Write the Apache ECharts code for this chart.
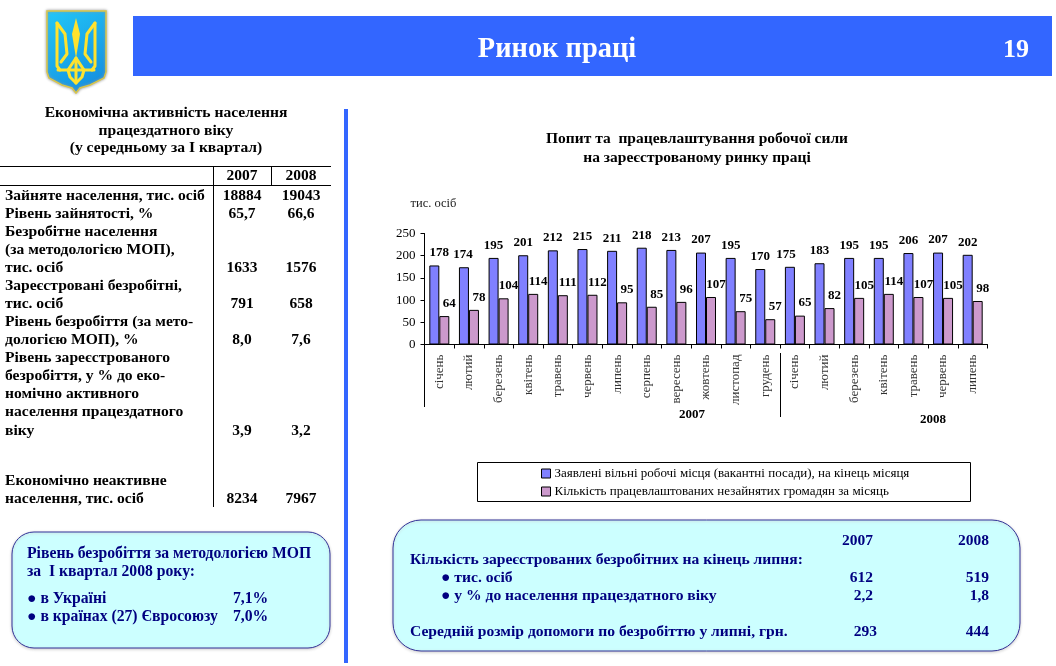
<!DOCTYPE html>
<html><head><meta charset="utf-8">
<style>html,body{margin:0;padding:0;background:#fff}#c{width:1056px;height:666px}</style>
<script src="https://cdn.jsdelivr.net/npm/echarts@6/dist/echarts.min.js"></script>
</head><body><div id="c"></div>
<script>
const months = ['січень','лютий','березень','квітень','травень','червень','липень','серпень','вересень','жовтень','листопад','грудень','січень','лютий','березень','квітень','травень','червень','липень'];
const vacancies = [178,174,195,201,212,215,211,218,213,207,195,170,175,183,195,195,206,207,202];
const placed = [64,78,104,114,111,112,95,85,96,107,75,57,65,82,105,114,107,105,98];
const seriesNames = ['Заявлені вільні робочі місця (вакантні посади), на кінець місяця','Кількість працевлаштованих незайнятих громадян за місяць'];
const tableTitle = ['Економічна активність населення','працездатного віку','(у середньому за І квартал)'];
const tableYears = ['2007','2008'];
const tableLines = [
 ['Зайняте населення, тис. осіб',195,'18884','19043'],
 ['Рівень зайнятості, %',213,'65,7','66,6'],
 ['Безробітне населення',231],
 ['(за методологією МОП),',249],
 ['тис. осіб',267,'1633','1576'],
 ['Зареєстровані безробітні,',285],
 ['тис. осіб',303,'791','658'],
 ['Рівень безробіття (за мето-',321],
 ['дологією МОП), %',339,'8,0','7,6'],
 ['Рівень зареєстрованого',357],
 ['безробіття, у % до еко-',375],
 ['номічно активного',393],
 ['населення працездатного',411],
 ['віку',430,'3,9','3,2'],
 ['Економічно неактивне',480],
 ['населення, тис. осіб',498,'8234','7967']
];
const serif = '"Liberation Serif","Times New Roman",serif';
const navy = '#000080', bandBlue = '#3366ff';
function t(x,y,text,o){o=o||{};return {type:'text',x:x,y:y+1,z:o.z||5,style:{text:text,fontFamily:serif,fontWeight:o.w||'bold',fontSize:o.s||14,fill:o.c||'#000',align:o.a||'left',verticalAlign:'middle'}};}
function l(x1,y1,x2,y2,c,w){return {type:'line',z:4,shape:{x1:x1,y1:y1,x2:x2,y2:y2},style:{stroke:c||'#000',lineWidth:w||1}};}
function trident(pts){return {type:'polyline',z:6,shape:{points:pts},style:{stroke:'#ffe22e',lineWidth:3,fill:null,lineCap:'round',lineJoin:'round'}};}
const g = [];
// header
g.push({type:'rect',z:1,shape:{x:133,y:16,width:919,height:60},style:{fill:bandBlue}});
g.push(t(557,49,'Ринок праці',{s:28.4,c:'#fff',a:'center'}));
g.push(t(1016,49,'19',{s:26,c:'#fff',a:'center'}));
g.push({type:'rect',z:1,shape:{x:344,y:109,width:4,height:554},style:{fill:bandBlue}});
// emblem
g.push({type:'polygon',z:5,shape:{points:[[47,11],[106,11],[106,72],[104,78],[90,85],[80,88],[76,93],[72,88],[62,85],[49,78],[47,72]]},style:{stroke:'#d9c64a',lineWidth:1.5,shadowBlur:3,shadowColor:'#999',fill:new echarts.graphic.LinearGradient(0,0,1,1,[{offset:0,color:'#22c8f8'},{offset:1,color:'#1488dc'}])}});
g.push({type:'polygon',z:6,shape:{points:[[76,18],[72,34],[76,58],[80,34]]},style:{fill:'#ffe22e'}});
g.push(trident([[57,23],[57,66],[60,70]]));
g.push(trident([[95,23],[95,66],[92,70]]));
g.push(trident([[57,23],[65,34],[67,54],[61,62]]));
g.push(trident([[95,23],[87,34],[85,54],[91,62]]));
g.push(trident([[58,70],[94,70]]));
g.push(trident([[76,58],[68,70],[70,77],[76,83],[82,77],[84,70],[76,58]]));
g.push(trident([[76,58],[76,83]]));
// left table
tableTitle.forEach((s,i)=>g.push(t(166,[112,130,147][i],s,{a:'center',s:15.6})));
g.push(l(0,166.5,331,166.5),l(0,185.5,331,185.5),l(213.5,166,213.5,507),l(271.5,166,271.5,185));
g.push(t(242,175,tableYears[0],{a:'center',s:15.5}),t(301,175,tableYears[1],{a:'center',s:15.5}));
tableLines.forEach(r=>{
  g.push(t(5,r[1],r[0],{s:15.6}));
  if(r[2]){g.push(t(242,r[1],r[2],{a:'center',s:15.5}),t(301,r[1],r[3],{a:'center',s:15.5}));}
});
// left callout
g.push({type:'rect',z:1,shape:{x:12,y:532,width:318,height:116,r:22},style:{fill:'#ccffff',stroke:'#333399',lineWidth:1,shadowBlur:3,shadowColor:'#ccc',shadowOffsetY:1}});
[[27,553,'Рівень безробіття за методологією МОП'],[27,571,'за  І квартал 2008 року:'],[27,598,'● в Україні'],[233,598,'7,1%'],[27,616,'● в країнах (27) Євросоюзу'],[233,616,'7,0%']]
 .forEach(a=>g.push(t(a[0],a[1],a[2],{s:15.7,c:navy})));
// right callout
g.push({type:'rect',z:1,shape:{x:393,y:520,width:627,height:131,r:28},style:{fill:'#ccffff',stroke:'#333399',lineWidth:1,shadowBlur:3,shadowColor:'#ccc',shadowOffsetY:1}});
[[410,559,'Кількість зареєстрованих безробітних на кінець липня:'],[441,577,'● тис. осіб'],[441,595,'● у % до населення працездатного віку'],[410,631,'Середній розмір допомоги по безробіттю у липні, грн.']]
 .forEach(a=>g.push(t(a[0],a[1],a[2],{s:15.6,c:navy})));
[[873,540,'2007'],[989,540,'2008'],[873,577,'612'],[989,577,'519'],[873,595,'2,2'],[989,595,'1,8'],[877,631,'293'],[989,631,'444']]
 .forEach(a=>g.push(t(a[0],a[1],a[2],{s:15.5,c:navy,a:'right'})));
// chart furniture
g.push(l(424.5,345,424.5,407),l(780.5,353,780.5,417));
g.push(t(692,414,'2007',{a:'center',s:13}),t(933,419,'2008',{a:'center',s:13}));
g.push({type:'rect',z:1,shape:{x:477.5,y:462.5,width:493,height:39},style:{fill:'#fff',stroke:'#000',lineWidth:1}});

const chart = echarts.init(document.getElementById('c'),null,{width:1056,height:666});
const lab = (dx)=>({show:true,position:'top',offset:[dx,-3],fontFamily:serif,fontWeight:'bold',fontSize:13,color:'#000',distance:3});
const vacancyLabelShift = {0:5,1:-1,12:-4};
chart.setOption({
  backgroundColor:'#fff',animation:false,
  title:{text:'Попит та  працевлаштування робочої сили\nна зареєстрованому ринку праці',left:692,top:124,textAlign:'center',
    textStyle:{fontFamily:serif,fontWeight:'bold',fontSize:15.5,lineHeight:19,color:'#000'}},
  legend:{orient:'vertical',left:536,top:462,itemWidth:9,itemHeight:9,itemGap:5,z:5,icon:'rect',
    textStyle:{fontFamily:serif,fontSize:13,color:'#000',padding:[0,0,0,-1]},
    data:[{name:seriesNames[0],itemStyle:{borderColor:'#000',borderWidth:1}},{name:seriesNames[1],itemStyle:{borderColor:'#000',borderWidth:1}}]},
  grid:{left:424.5,right:68.5,top:233.5,bottom:321.5},
  xAxis:{type:'category',data:months,
    axisLine:{lineStyle:{color:'#000'}},
    axisTick:{show:true,length:4,lineStyle:{color:'#000'},alignWithLabel:false},
    axisLabel:{interval:0,rotate:90,margin:10,fontFamily:serif,fontSize:13,color:'#333'}},
  yAxis:{type:'value',min:0,max:250,interval:50,name:'тис. осіб',nameLocation:'end',nameGap:23,
    nameTextStyle:{fontFamily:serif,fontSize:12.5,color:'#222',align:'center',padding:[0,0,0,18]},
    axisLine:{show:true,lineStyle:{color:'#000'}},
    axisTick:{show:true,length:4,lineStyle:{color:'#000'}},
    splitLine:{show:false},
    axisLabel:{margin:9,fontFamily:serif,fontSize:13,color:'#000'}},
  series:[
    {name:seriesNames[0],type:'bar',data:vacancies.map((v,i)=>vacancyLabelShift[i]?{value:v,label:{offset:[vacancyLabelShift[i],-3]}}:v),barWidth:10,barGap:0,itemStyle:{color:'#8080ff',borderColor:'#000',borderWidth:1},label:lab(0)},
    {name:seriesNames[1],type:'bar',data:placed,barWidth:10,barGap:0,itemStyle:{color:'#cc99cc',borderColor:'#000',borderWidth:1},label:lab(5)}
  ],
  graphic:{elements:g}
});
</script></body></html>
